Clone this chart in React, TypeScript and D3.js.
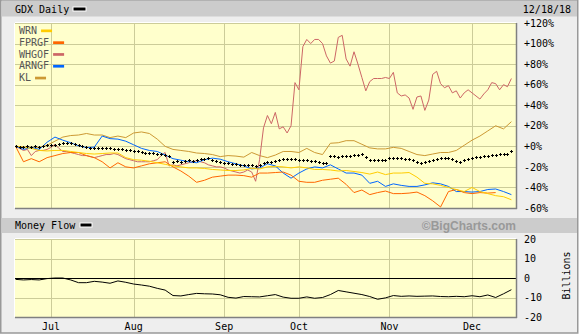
import React from "react";
import * as d3 from "d3";

const monthLabels = ["Jul", "Aug", "Sep", "Oct", "Nov", "Dec"];
const monthDayIndex = [9, 30, 53, 72, 95, 116];
const pctTicks = [120, 100, 80, 60, 40, 20, 0, -20, -40, -60];
const flowTicks = [20, 10, 0, -10, -20];
const lastDayIndex = 126;

const seriesNames = ["WRN", "FPRGF", "WHGOF", "ARNGF", "KL"];
const seriesColors = ["#ffcc00", "#ff6600", "#cc6666", "#0066ff", "#cc9933"];

// GDX daily % change (every trading day)
const gdx = [
  0, -0.5, -1, 0, -0.5, 0, -0.5, 0.5, 1, 1.5,
  1, 2.5, 3, 3.5, 3, 2, 1, 0, -1, -1.5,
  -2, -1.5, -2, -1.5, -2, -2.5, -2.5, -3, -3.5, -4,
  -5, -5, -5.5, -6, -6, -6.5, -7, -7.5, -8.5, -9.5,
  -15, -14, -15, -14, -13.5, -14, -13, -12, -12, -11.5,
  -13, -14, -15, -16, -16.5, -17, -17.5, -18, -18, -18,
  -18.5, -19.5, -18, -16.5, -15.5, -15, -14, -13.5, -12, -12.5,
  -12.5, -12.5, -13, -13, -13.5, -14, -14.5, -15.5, -16.5, -16.5,
  -9.5, -9.5, -10, -9.5, -9.5, -9, -8.5, -8, -7.5, -10,
  -13, -13, -13.5, -13.5, -13, -11, -11, -11, -11.5, -12,
  -12.5, -13.5, -15, -16.5, -15, -14, -13, -12, -11.5, -11,
  -11.5, -12, -14, -15, -13, -12, -11.5, -10.5, -10, -9,
  -9, -8.5, -8, -7.5, -7.5, -7, -5,
];

// WHGOF daily % change
const whgof = [
  0, -2, -4, -3, -9, -5, -4, -4, -3, -1,
  2, -2, -5, -5, -6, -7, -8, -9, -9, -10,
  -11, -10, -9, -8, -8, -7, -8, -10, -12, -13,
  -14, -15, -15, -15, -15, -14, -13, -9, -6, -19,
  -18, -19, -18, -17, -16, -15, -14, -15, -16, -18,
  -19, -20, -20, -21, -23, -24, -25, -26, -25, -23,
  -25, -34, -13, 18, 30, 22, 33, 17, 19, 13,
  20, 62, 55, 97, 104, 100, 104, 104, 100, 88,
  81, 83, 106, 108, 85, 78, 92, 80, 67, 54,
  63, 66, 66, 66, 67, 66, 72, 52, 49, 50,
  47, 36, 48, 49, 35, 45, 70, 73, 61, 57,
  59, 52, 54, 47, 52, 55, 52, 49, 46, 51,
  55, 62, 61, 55, 60, 58, 66,
];

// every second trading day
const wrn = [
  0, -1, -2, -4, -4.5, -4, -4, -5, -6, -7,
  -7.5, -7, -6.5, -6.5, -11, -13, -13.5, -14.5, -16, -17.5,
  -19, -20, -21, -21, -21.5, -22.5, -23, -23.5, -23.5, -23,
  -21.5, -22, -20, -19.5, -20, -21, -20, -21, -22.5, -22.5,
  -23, -24, -23.5, -24.5, -25.5, -27, -25, -27.5, -26, -26,
  -25.5, -30, -36, -36.5, -38, -40, -42, -44, -40, -44,
  -46, -48, -49, -52,
];

const fprgf: (number | null)[] = [
  0, -15, -12, -15, -11, -9, -7, -6, -6, -9,
  -11, -15, -21, -16, -20, -21, -19, -17, -16, -15,
  -20, -24, -29, -35, -33, -30, -29, -28, -28, -28.5,
  -30, -26, -26, -25.5, -25, -28, -34, -35, -35, -33,
  -32, -31, -37, -45, -42.5, -47, -45, -43.5, -46, -46,
  -45.5, -44.5, -48, -53, -59, -44, -42, -45, -46, -45,
  -45.5, -45, null, null,
];

const arngf = [
  0, -3, -1, -3, 4, 9, 6, 3.5, 0.5, -1.2,
  -0.8, 10, 7.5, 7, 5, 1.5, -2, -4, -5, -8.5,
  -12, -13.5, -15, -16, -13, -11.5, -12.5, -15, -17, -19,
  -22, -21, -17, -19, -26, -31, -26, -22, -20, -21,
  -18, -22, -26, -26, -28, -36, -34, -39, -36.5, -38,
  -39, -39, -37.5, -35.5, -36.5, -39, -44, -44, -44.5, -44,
  -42, -41.5, -44, -47,
];

const kl = [
  0, -0.5, -1, -1, 1, 5, 9, 10.5, 11, 12.5,
  11, 11, 8.5, 10, 8.5, 13, 14, 12.5, 7, 0,
  -3, -4, -5, -6.5, -7, -8, -10, -9, -9.5, -10.5,
  -6, -9, -11, -8.5, -5, -5, -6, -2, -6, -8,
  3, 3.5, 5.5, 5.5, 2, -1.5, -2.5, -2.5, -1, -2,
  -5, -8, -9, -7.5, -6, -6, -4, 1, 6, 10,
  15, 20, 17, 24,
];

// Money flow, billions, every second trading day
const moneyFlow = [
  -0.7, -1, -0.8, -1, -0.3, 0, 0, -1, -2.4, -2.4,
  -1.7, -2.1, -2.7, -1.5, -2.2, -3.1, -3.6, -4.2, -5.3, -6.2,
  -9, -9.2, -8.5, -7.9, -8.1, -8.2, -8.6, -9.9, -10.3, -9.5,
  -9.6, -9.7, -9.1, -8.5, -9.8, -10.4, -10.4, -9.7, -10.4, -10,
  -8.5, -6.4, -7.1, -7.8, -8.5, -9.5, -10.9, -10.2, -9, -9.4,
  -9.2, -9.4, -9.3, -9.2, -9.5, -9.6, -9.4, -9.6, -9.1, -9.6,
  -8.7, -10, -8.1, -6,
];

type Pt = { i: number; v: number | null };
const daily = (a: (number | null)[]): Pt[] => a.map((v, i) => ({ i, v }));
const everyOther = (a: (number | null)[]): Pt[] => a.map((v, k) => ({ i: k * 2, v }));

const MONO = "DejaVu Sans Mono, monospace";

export default function App() {
  const W = 579;
  const H = 335;
  const L = 15, R = 516;
  const mainTop = 23, mainBot = 208;
  const mfTop = 239, mfBot = 317;

  const x = d3.scaleLinear().domain([0, lastDayIndex]).range([15.6, 511.4]);
  const yP = d3.scaleLinear().domain([-60, 120]).range([mainBot, mainTop]);
  const yM = d3.scaleLinear().domain([-20, 20]).range([mfBot, mfTop]);

  const lineP = d3
    .line<Pt>()
    .defined((d) => d.v != null)
    .x((d) => x(d.i))
    .y((d) => yP(d.v as number));
  const lineM = d3
    .line<Pt>()
    .x((d) => x(d.i))
    .y((d) => yM(d.v as number));

  const seriesData = [everyOther(wrn), everyOther(fprgf), daily(whgof), everyOther(arngf), everyOther(kl)];
  const drawOrder = [4, 2, 3, 1, 0];

  const gdxPath = daily(gdx)
    .map((d) => {
      const px = Math.round(x(d.i)) + 0.5;
      const py = Math.round(yP(d.v as number)) + 0.5;
      return `M${px - 1.5},${py}h3M${px},${py - 1.5}v3`;
    })
    .join("");

  return (
    <svg
      width={W}
      height={H}
      style={{ position: "absolute", left: 0, top: 0, display: "block" }}
      xmlns="http://www.w3.org/2000/svg"
    >
      <defs>
        <clipPath id="clipMain">
          <rect x={L} y={mainTop} width={R - L} height={mainBot - mainTop + 1} />
        </clipPath>
        <clipPath id="clipMf">
          <rect x={L} y={mfTop} width={R - L} height={mfBot - mfTop} />
        </clipPath>
      </defs>
      {/* frame */}
      <rect x={0} y={0} width={W} height={H} fill="#ffffff" />
      <rect x={0.75} y={0.5} width={577} height={332.5} fill="#eeeeee" stroke="#999999" strokeWidth={1.5} />
      <rect x={1.5} y={0.5} width={575.5} height={16} fill="#cccccc" />
      <rect x={1.5} y={218} width={575.5} height={15} fill="#cccccc" />

      {/* header texts */}
      <text x={15} y={12.5} fontFamily={MONO} fontSize={10} fill="#000">GDX Daily</text>
      <rect x={72.5} y={6.5} width={14} height={5} fill="#ffffff" />
      <rect x={73.5} y={7.5} width={12} height={3} fill="#000000" />
      <text x={571} y={12.5} fontFamily={MONO} fontSize={10} fill="#000" textAnchor="end">12/18/18</text>

      <text x={15} y={229.3} fontFamily={MONO} fontSize={10} fill="#000">Money Flow</text>
      <rect x={79.5} y={222.5} width={13} height={5} fill="#ffffff" />
      <rect x={80.5} y={223.5} width={11} height={3} fill="#000000" />
      <text x={516} y={229.5} fontFamily="Liberation Sans, Arial, sans-serif" fontWeight="bold" fontSize={12} fill="#999999" textAnchor="end">
        ©BigCharts.com
      </text>

      {/* main plot background */}
      <rect x={L} y={mainTop} width={R - L} height={mainBot - mainTop} fill="#ffffcc" />
      <g stroke="#cccc99" strokeWidth={1} shapeRendering="crispEdges">
        {pctTicks.map((t) => (
          <line key={"hg" + t} x1={L} x2={R} y1={Math.round(yP(t)) + 0.5} y2={Math.round(yP(t)) + 0.5} />
        ))}
        {monthDayIndex.map((d) => (
          <line key={"vg" + d} x1={Math.round(x(d)) + 0.5} x2={Math.round(x(d)) + 0.5} y1={mainTop} y2={mainBot} />
        ))}
      </g>
      <line x1={L} x2={R + 1} y1={mainBot + 0.5} y2={mainBot + 0.5} stroke="#808080" strokeWidth={1.5} />
      <line x1={R + 0.5} x2={R + 0.5} y1={mainTop} y2={mainBot + 1} stroke="#808080" strokeWidth={1.5} />
      <line x1={L} x2={R} y1={mainTop - 0.5} y2={mainTop - 0.5} stroke="#ffffff" strokeWidth={1} />
      <line x1={L - 0.5} x2={L - 0.5} y1={mainTop} y2={mainBot} stroke="#ffffff" strokeWidth={1} />

      {/* series */}
      <g clipPath="url(#clipMain)" fill="none" strokeWidth={1} strokeLinejoin="round">
        {drawOrder.map((s) => (
          <path key={seriesNames[s]} d={lineP(seriesData[s]) || ""} stroke={seriesColors[s]} />
        ))}
        <path d={gdxPath} stroke="#000000" strokeWidth={1} shapeRendering="crispEdges" />
      </g>

      {/* legend */}
      {seriesNames.map((n, k) => {
        const by = 34 + k * 11.8;
        const tw = n.length * 6.02;
        return (
          <g key={"lg" + n}>
            <text x={19} y={by} fontFamily={MONO} fontSize={10} fill="#555555">{n}</text>
            <rect x={19 + tw + 4} y={by - 4.5} width={11} height={2.7} fill={seriesColors[k]} />
          </g>
        );
      })}

      {/* main y labels */}
      {pctTicks.map((t) => (
        <text key={"pl" + t} x={524} y={yP(t) + 3.7} fontFamily={MONO} fontSize={10} fill="#000">
          {(t >= 0 ? "+" : "-") + Math.abs(t) + "%"}
        </text>
      ))}

      {/* money flow panel */}
      <rect x={L} y={mfTop} width={R - L} height={mfBot - mfTop} fill="#ffffcc" />
      <g stroke="#cccc99" strokeWidth={1} shapeRendering="crispEdges">
        {flowTicks.map((t) => (
          <line key={"mh" + t} x1={L} x2={R} y1={Math.round(yM(t)) + 0.5} y2={Math.round(yM(t)) + 0.5} />
        ))}
        {monthDayIndex.map((d) => (
          <line key={"mv" + d} x1={Math.round(x(d)) + 0.5} x2={Math.round(x(d)) + 0.5} y1={mfTop} y2={mfBot} />
        ))}
      </g>
      <line x1={L} x2={R} y1={Math.round(yM(0)) + 0.5} y2={Math.round(yM(0)) + 0.5} stroke="#000" strokeWidth={1} shapeRendering="crispEdges" />
      <line x1={L} x2={R + 1} y1={mfBot + 0.5} y2={mfBot + 0.5} stroke="#808080" strokeWidth={1.5} />
      <line x1={R + 0.5} x2={R + 0.5} y1={mfTop} y2={mfBot + 1} stroke="#808080" strokeWidth={1.5} />
      <line x1={L} x2={R} y1={mfTop - 0.5} y2={mfTop - 0.5} stroke="#ffffff" strokeWidth={1} />
      <line x1={L - 0.5} x2={L - 0.5} y1={mfTop} y2={mfBot} stroke="#ffffff" strokeWidth={1} />
      <g clipPath="url(#clipMf)">
        <path d={lineM(everyOther(moneyFlow)) || ""} fill="none" stroke="#000" strokeWidth={1} strokeLinejoin="round" />
      </g>
      {flowTicks.map((t) => (
        <text key={"ml" + t} x={524} y={yM(t) + 3.7} fontFamily={MONO} fontSize={10} fill="#000">
          {String(t)}
        </text>
      ))}
      <text transform="translate(570,275.5) rotate(-90)" textAnchor="middle" fontFamily={MONO} fontSize={10} fill="#000">
        Billions
      </text>

      {/* month labels */}
      {monthDayIndex.map((d, k) => (
        <text key={"mt" + d} x={x(d)} y={329.5} textAnchor="middle" fontFamily={MONO} fontSize={10} fill="#000">
          {monthLabels[k]}
        </text>
      ))}
    </svg>
  );
}
